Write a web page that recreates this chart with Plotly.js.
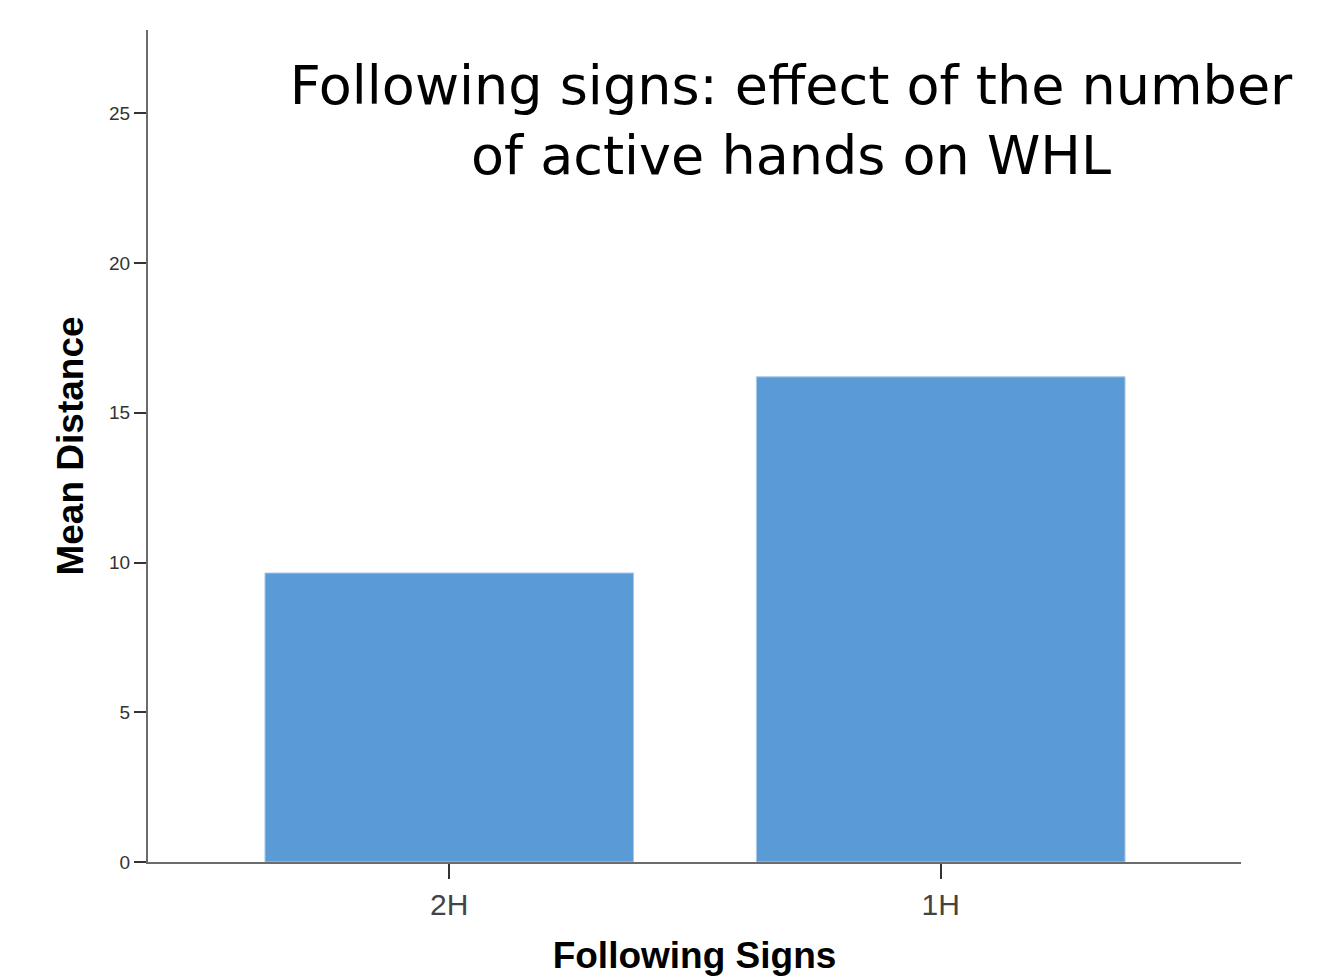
<!DOCTYPE html>
<html>
<head>
<meta charset="utf-8">
<script src="https://cdn.plot.ly/plotly-3.0.1.min.js"></script>
<style>html,body{margin:0;padding:0;background:#fff;}#chart{width:1321px;height:979px;}</style>
</head>
<body>
<div id="chart"></div>
<script>
const categories = ["2H", "1H"];
const meanDistance = [9.65, 16.2];
const yTickValues = [0, 5, 10, 15, 20, 25];

const trace = {
  type: "bar",
  x: categories,
  y: meanDistance,
  width: 0.75,
  marker: {color: "#5b9bd5", line: {color: "#a9c8ea", width: 1}},
  hoverinfo: "x+y"
};

const layout = {
  width: 1321,
  height: 979,
  paper_bgcolor: "#ffffff",
  plot_bgcolor: "#ffffff",
  margin: {l: 148, r: 80, t: 30, b: 117},
  showlegend: false,
  title: {
    text: "Following signs: effect of the number<br>of active hands on WHL",
    font: {family: "DejaVu Sans, Verdana, sans-serif", size: 54, color: "#000"},
    xref: "container", x: 791 / 1321, xanchor: "center",
    yref: "container", y: 1 - 104 / 979, yanchor: "top"
  },
  xaxis: {
    type: "category",
    range: [-0.613, 1.611],
    showline: true, linecolor: "#6b6b6b", linewidth: 2,
    ticks: "outside", ticklen: 15, tickwidth: 2, tickcolor: "#333",
    tickfont: {family: "Liberation Sans, Arial, sans-serif", size: 30, color: "#444"},
    showgrid: false, zeroline: false,
    title: {text: "<b>Following Signs</b>", font: {family: "Liberation Sans, Arial, sans-serif", size: 37, color: "#000"}, standoff: 22}
  },
  yaxis: {
    range: [0, 27.78],
    tickvals: yTickValues,
    ticktext: yTickValues.map(String),
    showline: true, linecolor: "#6b6b6b", linewidth: 2,
    ticks: "outside", ticklen: 12, tickwidth: 2, tickcolor: "#333",
    tickfont: {family: "Liberation Sans, Arial, sans-serif", size: 19, color: "#333"},
    showgrid: false, zeroline: false,
    title: {text: "<b>Mean Distance</b>", font: {family: "Liberation Sans, Arial, sans-serif", size: 37, color: "#000"}, standoff: 14}
  }
};

Plotly.newPlot("chart", [trace], layout, {displayModeBar: false, staticPlot: true});
</script>
</body>
</html>
